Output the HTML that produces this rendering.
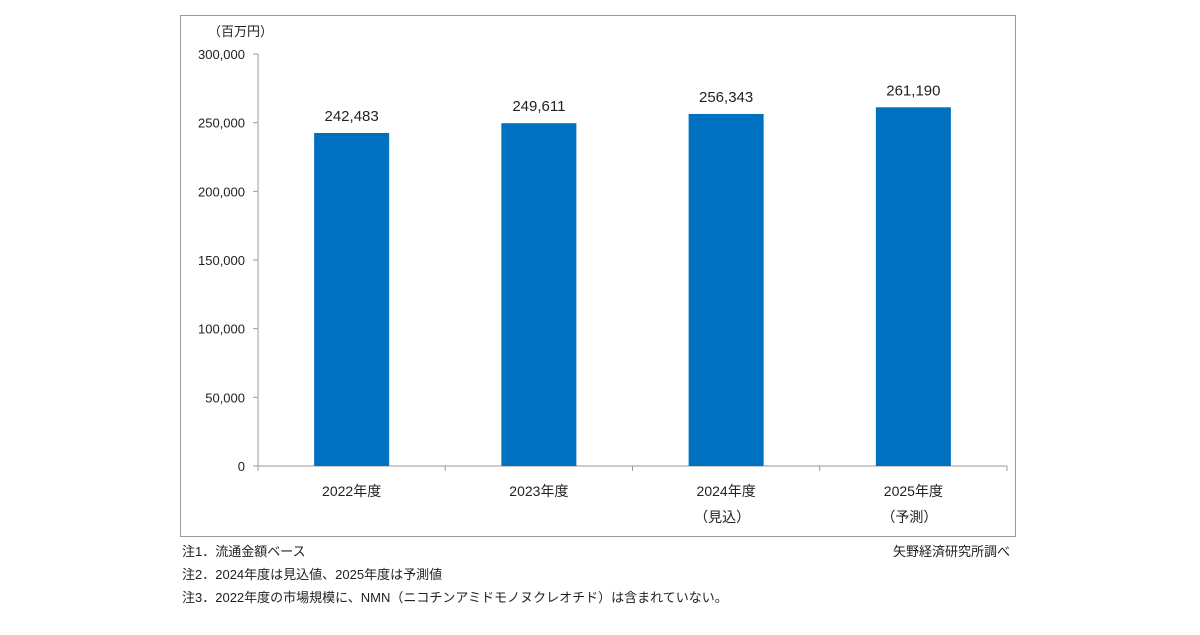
<!DOCTYPE html>
<html><head><meta charset="utf-8"><style>
body{margin:0;background:#fff;width:1200px;height:630px;overflow:hidden;font-family:"Liberation Sans","Noto Sans CJK JP",sans-serif;}
svg text{font-family:"Liberation Sans","Noto Sans CJK JP",sans-serif;fill:#222;}
</style></head><body>
<svg width="1200" height="630">
<rect x="180.5" y="15.5" width="835" height="521" fill="#fff" stroke="#999"/>
<text x="208" y="36" font-size="13">（百万円）</text>
<g id="axes"></g><g id="bars"></g>
<g font-size="13">
<text x="182" y="556">注1．流通金額ベース</text>
<text x="182" y="579">注2．2024年度は見込値、2025年度は予測値</text>
<text x="182" y="602">注3．2022年度の市場規模に、NMN（ニコチンアミドモノヌクレオチド）は含まれていない。</text>
<text x="1010" y="556" text-anchor="end">矢野経済研究所調べ</text>
</g>
</svg>
<script>
const categories=["2022年度","2023年度","2024年度","2025年度"];
const subLabels=["","","（見込）","（予測）"];
const values=[242483,249611,256343,261190];
const valueLabels=["242,483","249,611","256,343","261,190"];
const yTicks=[0,50000,100000,150000,200000,250000,300000];
const yTickLabels=["0","50,000","100,000","150,000","200,000","250,000","300,000"];
const NS="http://www.w3.org/2000/svg";
const x0=258,x1=1007,y0=466,y1=54,yMax=300000;
const y=v=>y0-(y0-y1)*v/yMax;
const band=(x1-x0)/categories.length;
const xc=i=>x0+band*(i+0.5);
function mk(t,a,p){const e=document.createElementNS(NS,t);for(const k in a)e.setAttribute(k,a[k]);p.appendChild(e);return e;}
const ax=document.getElementById('axes'),bg=document.getElementById('bars');
let l=mk('line',{x1:x0,y1:y1,x2:x0,y2:y0,stroke:'#999'},ax);


l=mk('line',{x1:x0,y1:y0,x2:x1,y2:y0,stroke:'#999'},ax);


yTicks.forEach((v,i)=>{
 const t=mk('line',{x1:x0-5,x2:x0,y1:y(v),y2:y(v),stroke:'#999'},ax);
 
 
 const tx=mk('text',{x:x0-13,y:y(v)+5,'text-anchor':'end','font-size':'13'},ax);
 tx.textContent=yTickLabels[i];
 
 
});
for(let i=0;i<=categories.length;i++){
 const t=mk('line',{x1:x0+band*i,x2:x0+band*i,y1:y0,y2:y0+5,stroke:'#999'},ax);
 
 
}
const bw=75;
values.forEach((v,i)=>{
 const r=mk('rect',{x:xc(i)-bw/2,y:y(v),width:bw,height:y0-y(v),fill:'#0070C0'},bg);
 
 
 const vl=mk('text',{x:xc(i),y:y(v)-12,'text-anchor':'middle','font-size':'15'},bg);
 vl.textContent=valueLabels[i];
 
 
 const cl=mk('text',{x:xc(i),y:496,'text-anchor':'middle','font-size':'14'},bg);
 cl.textContent=categories[i];
 
 
 if(subLabels[i]){
  const sl=mk('text',{x:xc(i)-4,y:522,'text-anchor':'middle','font-size':'14'},bg);
  sl.textContent=subLabels[i];
  
  
 }
});
</script>
</body></html>
